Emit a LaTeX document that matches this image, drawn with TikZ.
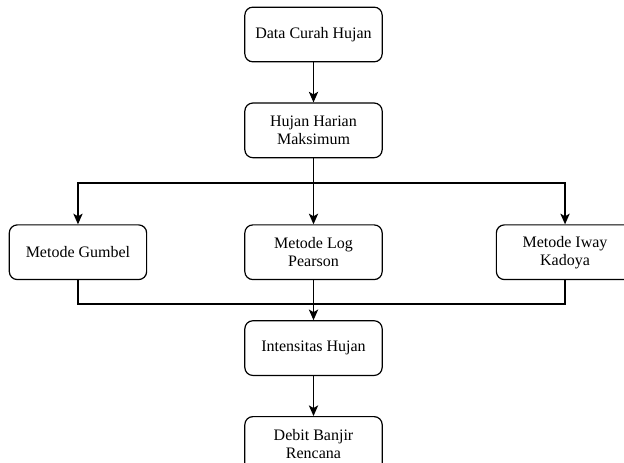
\documentclass[tikz,border=0pt]{standalone}
\usepackage{fontspec}
\setmainfont{Liberation Serif}
\usetikzlibrary{positioning,arrows.meta}

\begin{document}
\begin{tikzpicture}[
    x=0.75pt, y=-0.75pt,
    flowbox/.style={rectangle, rounded corners=6pt, draw, line width=0.9pt,
        minimum width=103pt, minimum height=41pt, align=center,
        font=\fontsize{12}{13.5}\selectfont},
    flowarrow/.style={-{Stealth[length=8pt,width=7pt,inset=2pt]}, line width=0.9pt},
    flowline/.style={line width=0.9pt},
    node distance=30pt
]
    \clip (0,0) rectangle (624,463);
    \useasboundingbox (0,0) rectangle (624,463);

    \node[flowbox] (data) at (313.5,34.5) {Data Curah Hujan};
    \node[flowbox, below=of data] (harian) {Hujan Harian\\Maksimum};
    \node[flowbox, below=49.5pt of harian] (pearson) {Metode Log\\Pearson};
    \node[flowbox, left=72.75pt of pearson] (gumbel) {Metode Gumbel};
    \node[flowbox, right=84.75pt of pearson] (iway) {Metode Iway\\Kadoya};
    \node[flowbox, below=of pearson] (intensitas) {Intensitas Hujan};
    \node[flowbox, below=of intensitas] (debit) {Debit Banjir\\Rencana};

    % split and merge points
    \coordinate (split) at (313.5,183);
    \coordinate (merge) at (313.5,304);

    \draw[flowarrow] (data) -- (harian);
    \draw[flowline] (harian) -- (split);
    \draw[flowarrow] (split) -| (gumbel.north);
    \draw[flowarrow] (split) -| (iway.north);
    \draw[flowarrow] (harian) -- (pearson);

    \draw[flowline] (gumbel.south) |- (merge);
    \draw[flowline] (iway.south) |- (merge);
    \draw[flowarrow] (pearson) -- (intensitas);
    \draw[flowarrow] (intensitas) -- (debit);
\end{tikzpicture}
\end{document}
